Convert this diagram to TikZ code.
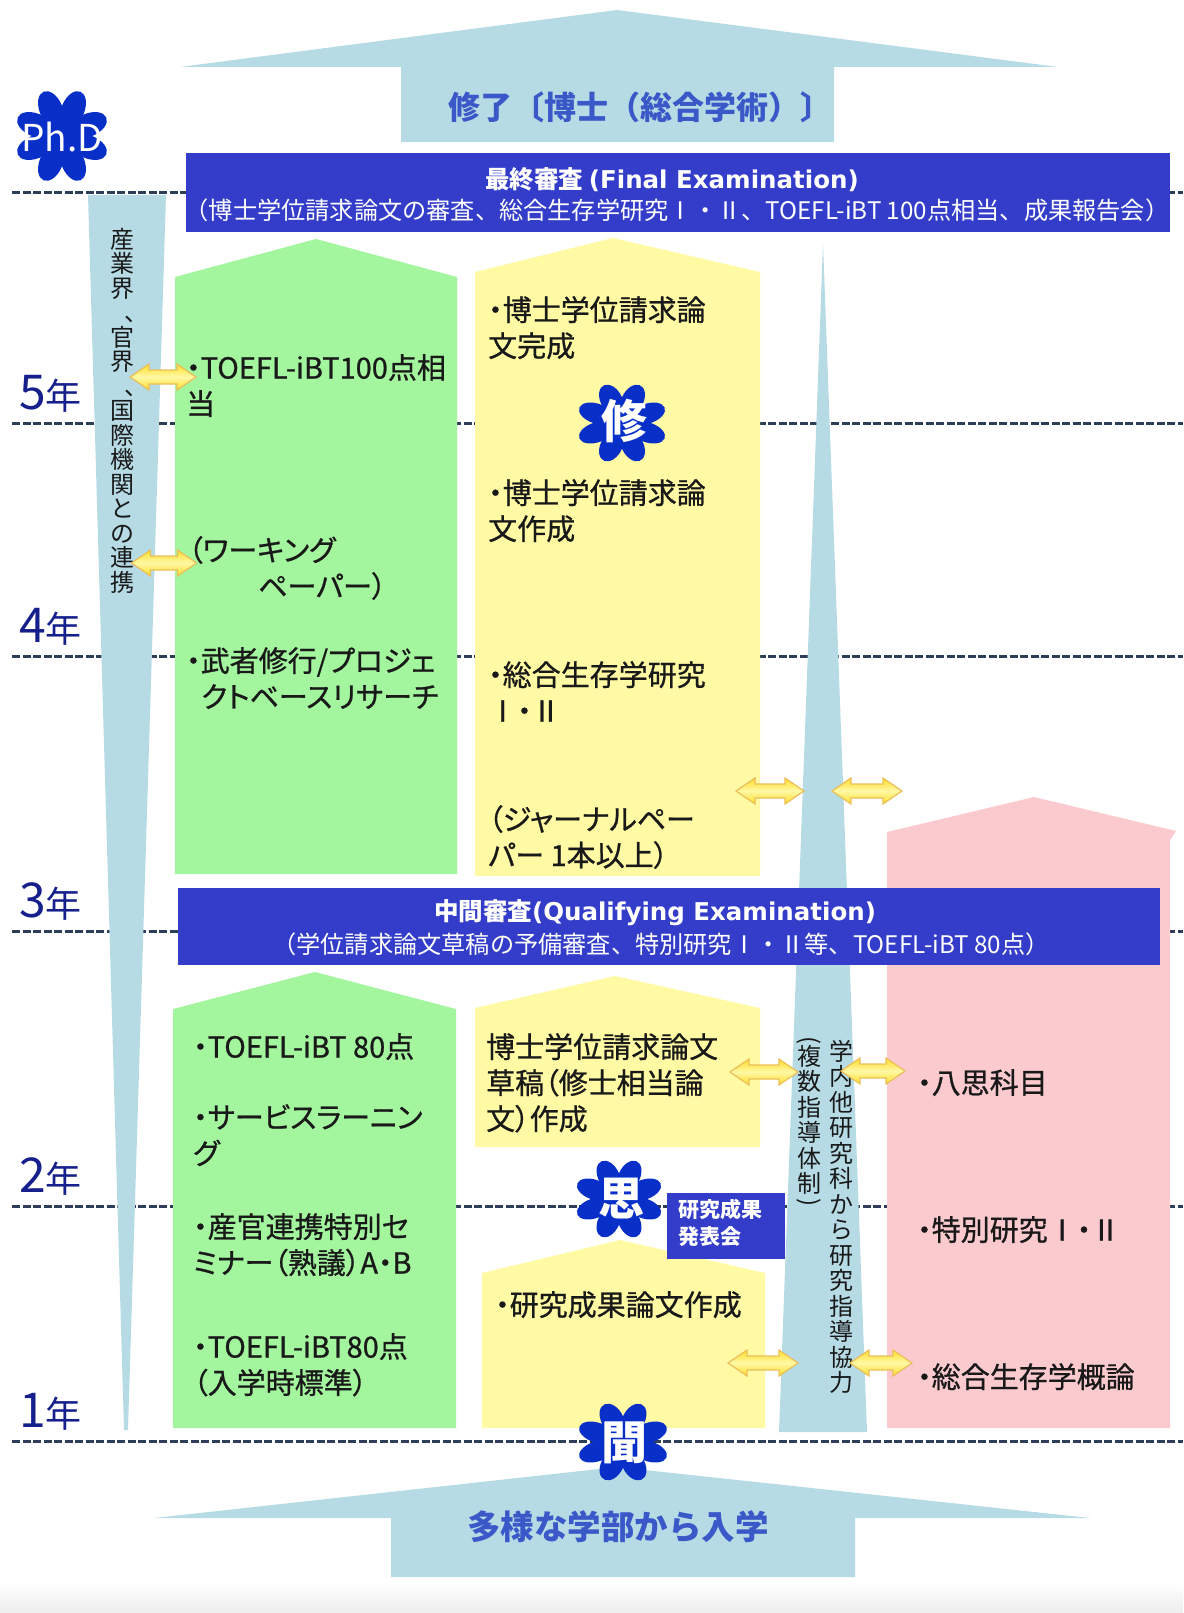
\documentclass[tikz,border=0pt]{standalone}
\usepackage{fontspec}
\usepackage{graphicx}
\setmainfont{Noto Sans CJK JP}
\newfontfamily\pjp{Noto Sans CJK JP}[RawFeature=+palt, FakeBold=0.8]
\newfontfamily\latinwide{DejaVu Sans}

\definecolor{skyband}{RGB}{183,219,229}
\definecolor{leaf}{RGB}{163,245,158}
\definecolor{cream}{RGB}{255,250,163}
\definecolor{blush}{RGB}{250,202,206}
\definecolor{examblue}{RGB}{51,61,201}
\definecolor{flowerblue}{RGB}{8,48,200}
\definecolor{gridline}{RGB}{45,62,88}
\definecolor{yearnavy}{RGB}{22,32,140}
\definecolor{titleblue}{RGB}{58,88,200}
\definecolor{arrowgold}{RGB}{255,222,40}
\definecolor{arrowlight}{RGB}{255,248,165}
\definecolor{arrowedge}{RGB}{236,190,90}

\newcommand{\bloom}[4]{%
  \begin{scope}[shift={(#1,#2)}, xscale=#3, yscale=#4]
    \fill[flowerblue] (0,0) circle[radius=0.45];
    \foreach \a in {22.5,67.5,...,337.5}
      \fill[flowerblue, rotate=\a] (0.6,0) ellipse[x radius=0.4, y radius=0.24];
  \end{scope}}
\newcommand{\tcomma}{\makebox[1em][l]{\hspace*{0.6em}、}}
\newcommand{\topen}{\rotatebox[origin=c]{-90}{(}}
\newcommand{\tclose}{\rotatebox[origin=c]{-90}{)}}

\tikzset{
  pics/twin/.style={code={
    \path[draw=arrowedge, line width=1.2pt, top color=arrowgold, bottom color=arrowgold, middle color=arrowlight]
      (-#1/2,0) -- (-#1/2+19,-13) -- (-#1/2+19,-7) -- (#1/2-19,-7) -- (#1/2-19,-13) -- (#1/2,0)
      -- (#1/2-19,13) -- (#1/2-19,7) -- (-#1/2+19,7) -- (-#1/2+19,13) -- cycle;
  }}
}

\begin{document}
\begin{tikzpicture}[x=1pt, y=-1pt,
    yearline/.style={gridline, line width=3pt, dash pattern=on 8pt off 2.5pt},
    boxtext/.style={anchor=north west, inner sep=0pt, align=left, text=black!90, font=\pjp\fontsize{29}{36}\selectfont},
    examhead/.style={text=white, inner sep=0pt, font=\bfseries\fontsize{24.5}{25}\selectfont},
    examsub/.style={text=white, inner sep=0pt, font=\fontsize{24.2}{25}\selectfont},
    tate/.style={anchor=north, inner sep=0pt, align=center, text=black!90},
    yearlab/.style={anchor=base west, inner sep=0pt, text=yearnavy},
    bloomtext/.style={text=white, inner sep=0pt, font=\bfseries\fontsize{46}{46}\selectfont},
    bandtitle/.style={text=titleblue, inner sep=0pt, font=\bfseries\fontsize{32}{32}\selectfont}]
  \useasboundingbox (0,0) rectangle (1183,1613);
  \shade[top color=white, bottom color=black!7] (0,1583) rectangle (1183,1613);

  \foreach \y in {193,423,656,931,1206,1441}
    \draw[yearline] (12,\y) -- (1183,\y);
  \foreach \n/\y in {5/409,4/642,3/917,2/1192,1/1427}
    \node[yearlab] (year\n) at (19,\y) {\fontsize{48}{48}\selectfont\n\fontsize{36}{36}\selectfont 年};

  \fill[skyband] (180,67) -- (617,10) -- (1058,67) -- (834,67) -- (834,142) -- (401,142) -- (401,67) -- cycle;
  \fill[skyband] (154,1518) -- (617,1467) -- (1090,1518) -- (855,1518) -- (855,1577) -- (391,1577) -- (391,1518) -- cycle;
  \fill[skyband] (88,195) -- (166,195) -- (128,1430) -- (124,1430) -- cycle;
  \fill[skyband] (823,243) -- (867,1432) -- (779,1432) -- cycle;

  \fill[leaf] (175,874) -- (175,277) -- (316,239) -- (457,277) -- (457,874) -- cycle;
  \fill[cream] (475,876) -- (475,272) -- (613,238) -- (760,272) -- (760,876) -- cycle;
  \fill[blush] (887,1428) -- (887,832) -- (1034,797) -- (1176,831) -- (1170,840) -- (1170,1428) -- cycle;
  \fill[cream] (475,1147) -- (475,1008) -- (615,976) -- (760,1008) -- (760,1147) -- cycle;
  \fill[leaf] (173,1428) -- (173,1009) -- (315,972) -- (456,1009) -- (456,1428) -- cycle;
  \fill[cream] (482,1428) -- (482,1273) -- (620,1240) -- (765,1273) -- (765,1428) -- cycle;

  \fill[examblue] (186,153) rectangle (1170,232);
  \fill[examblue] (178,888) rectangle (1160,965);
  \fill[examblue] (667,1193) rectangle (785,1259);

  \bloom{62}{136}{48}{48}
  \bloom{622}{423}{46}{41}
  \bloom{619}{1199}{45}{41}
  \bloom{623}{1442}{47}{41}

  \node[bandtitle] (degree) at (640,107) {修了〔博士（総合学術）〕};
  \node[bandtitle, font=\bfseries\fontsize{33.5}{34}\selectfont] (entry) at (618,1527) {多様な学部から入学};

  \node[bloomtext, font=\fontsize{37}{37}\selectfont] (phd) at (62,137) {Ph.D};
  \node[bloomtext] (shu) at (624,421) {修};
  \node[bloomtext] (shi) at (621,1199) {思};
  \node[bloomtext] (mon) at (624,1443) {聞};

  \node[examhead] (finalhead) at (672,180) {最終審査 {\latinwide (Final Examination)}};
  \node[examsub] (finalsub) at (677,210) {（博士学位請求論文の審査、総合生存学研究Ⅰ・Ⅱ、TOEFL-iBT 100点相当、成果報告会）};
  \node[examhead] (qualhead) at (655,913) {中間審査{\latinwide (Qualifying Examination)}};
  \node[examsub] (qualsub) at (661,944) {（学位請求論文草稿の予備審査、特別研究Ⅰ・Ⅱ等、TOEFL-iBT 80点）};
  \node[anchor=north west, inner sep=0pt, align=left, text=white, font=\bfseries\fontsize{21}{27}\selectfont] (happyo) at (678,1199) {研究成果\\発表会};

  \node[boxtext] (toefla) at (186,354) {・TOEFL-iBT100点相\\当};
  \node[boxtext] (working) at (188,536) {（ワーキング\\\hspace*{70pt}ペーパー）};
  \node[boxtext] (musha) at (186,647) {・武者修行/プロジェ\\\hspace*{15pt}クトベースリサーチ};

  \node[boxtext] (kansei) at (488,296) {・博士学位請求論\\文完成};
  \node[boxtext] (sakusei) at (488,479) {・博士学位請求論\\文作成};
  \node[boxtext] (sogo) at (488,661) {・総合生存学研究\\Ⅰ・Ⅱ};
  \node[boxtext] (journal) at (488,805) {（ジャーナルペー\\パー 1本以上）};

  \node[boxtext] (soko) at (486,1033) {博士学位請求論文\\草稿（修士相当論\\文）作成};
  \node[boxtext] (seika) at (495,1291) {・研究成果論文作成};

  \node[boxtext] (hasshi) at (917,1069) {・八思科目};
  \node[boxtext] (tokubetsu) at (917,1216) {・特別研究Ⅰ・Ⅱ};
  \node[boxtext] (gairon) at (917,1363) {・総合生存学概論};

  \node[boxtext] (toeflb) at (193,1033) {・TOEFL-iBT 80点};
  \node[boxtext] (service) at (193,1104) {・サービスラーニン\\グ};
  \node[boxtext] (seminar) at (193,1213) {・産官連携特別セ\\ミナー（熟議）A・B};
  \node[boxtext] (toeflc) at (193,1333) {・TOEFL-iBT80点\\（入学時標準）};

  \node[tate, font=\fontsize{24}{24.5}\selectfont] (renkei) at (122,228)
    {産\\業\\界\\\tcomma\\官\\界\\\tcomma\\国\\際\\機\\関\\と\\の\\連\\携};
  \node[tate, font=\fontsize{24}{25.5}\selectfont] (kyoryoku) at (841,1040)
    {学\\内\\他\\研\\究\\科\\か\\ら\\研\\究\\指\\導\\協\\力};
  \node[tate, font=\fontsize{24}{25.5}\selectfont] (fukusu) at (809,1036)
    {\topen\\[-8pt]複\\数\\指\\導\\体\\制\\[-8pt]\tclose};

  \pic (link1) at (163,377) {twin=66};
  \pic (link2) at (164,563) {twin=65};
  \pic (link3) at (770,791) {twin=68};
  \pic (link4) at (867,791) {twin=70};
  \pic (link5) at (764,1072) {twin=68};
  \pic (link6) at (873,1071) {twin=64};
  \pic (link7) at (763,1363) {twin=70};
  \pic (link8) at (881,1363) {twin=62};
\end{tikzpicture}
\end{document}
